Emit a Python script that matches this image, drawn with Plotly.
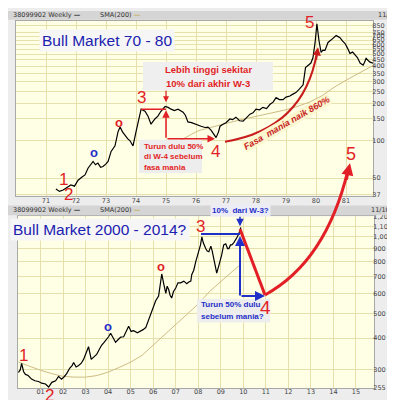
import math
import plotly.graph_objects as go

W, H = 395, 400


def px(x):
    return x / W


def py(y):
    return 1 - y / H


# ---------------- data ----------------
top_years = [1971.33, 1971.45, 1971.57, 1971.7, 1971.83, 1971.95, 1972.07, 1972.2, 1972.3, 1972.4, 1972.47,
             1972.57, 1972.65, 1972.73, 1972.82, 1972.9, 1973.0, 1973.07, 1973.17, 1973.3, 1973.4,
             1973.47, 1973.55, 1973.63, 1973.72, 1973.8, 1973.9, 1974.0, 1974.13, 1974.17, 1974.3,
             1974.4, 1974.5, 1974.63, 1974.73, 1974.83, 1974.97, 1975.07, 1975.17, 1975.28, 1975.4,
             1975.57, 1975.65, 1975.73, 1975.85, 1975.97, 1976.08, 1976.17, 1976.3, 1976.4, 1976.5,
             1976.57, 1976.67, 1976.75, 1976.8, 1976.9, 1977.0, 1977.13, 1977.22, 1977.33, 1977.45,
             1977.57, 1977.68, 1977.8, 1977.9, 1978.0, 1978.12, 1978.23, 1978.35, 1978.47, 1978.57,
             1978.67, 1978.78, 1978.9, 1979.0, 1979.13, 1979.23, 1979.33, 1979.45, 1979.57, 1979.65,
             1979.73, 1979.83, 1979.9, 1979.97, 1980.03, 1980.07, 1980.1, 1980.17, 1980.23, 1980.3,
             1980.4, 1980.5, 1980.58, 1980.67, 1980.75, 1980.8, 1980.88, 1980.97, 1981.05, 1981.13,
             1981.22, 1981.3, 1981.38, 1981.47, 1981.57, 1981.62, 1981.67, 1981.74, 1981.8, 1981.9]
top_price = [40.8, 39, 40, 42, 44, 43, 48, 51, 53, 60, 63,
             68, 64, 66, 61, 62, 65, 68, 82, 91, 118,
             129, 118, 110, 104, 100, 91, 118, 158, 180, 173,
             158, 136, 150, 158, 173, 189, 186, 180, 175, 180,
             170, 160, 142, 140, 136, 134, 131, 128, 129, 122,
             114, 106, 118, 131, 136, 140, 150, 148, 155, 145,
             144, 152, 164, 168, 180, 178, 186, 182, 197, 205,
             223, 215, 215, 225, 230, 238, 245, 262, 283, 390,
             408, 424, 470, 622, 880, 700, 642, 518, 540, 537,
             622, 650, 680, 707, 690, 680, 640, 610, 560, 508,
             520, 489, 470, 424, 408, 430, 463, 445, 431, 424]
top_sma_years = [1975.3, 1975.6, 1975.85, 1976.1, 1976.4, 1976.7, 1977.0, 1977.5, 1978.0, 1978.5, 1979.0,
                 1979.4, 1979.8, 1980.2, 1980.6, 1981.0, 1981.4, 1981.9]
top_sma = [95, 105, 113, 121, 127, 133, 138, 148, 157, 166, 178,
           190, 206, 231, 270, 308, 350, 405]

bot_years = [2000.02, 2000.1, 2000.16, 2000.25, 2000.33, 2000.45, 2000.6, 2000.75, 2000.91, 2001.05, 2001.22,
             2001.36, 2001.5, 2001.67, 2001.8, 2001.93, 2002.05, 2002.16, 2002.3, 2002.4, 2002.47,
             2002.58, 2002.69, 2002.8, 2002.91, 2003.02, 2003.13, 2003.25, 2003.36, 2003.49, 2003.6,
             2003.71, 2003.82, 2003.93, 2004.02, 2004.11, 2004.22, 2004.33, 2004.45, 2004.56, 2004.69,
             2004.8, 2004.91, 2005.02, 2005.13, 2005.3, 2005.44, 2005.55, 2005.67, 2005.78, 2005.89,
             2006.0, 2006.11, 2006.24, 2006.32, 2006.38, 2006.47, 2006.56, 2006.62, 2006.69, 2006.75,
             2006.82, 2006.9, 2007.0, 2007.1, 2007.22, 2007.36, 2007.49, 2007.58, 2007.67, 2007.71,
             2007.8, 2007.89, 2008.02, 2008.1, 2008.16, 2008.22, 2008.33, 2008.4, 2008.47, 2008.56,
             2008.62, 2008.69, 2008.76, 2008.82, 2008.91, 2008.97, 2009.04, 2009.13, 2009.22, 2009.3,
             2009.36, 2009.43, 2009.49, 2009.58, 2009.67, 2009.73, 2009.8, 2009.89]
bot_price = [293, 300, 318, 295, 288, 285, 276, 272, 270, 266, 264,
             257, 268, 272, 283, 276, 282, 290, 305, 312, 321,
             308, 312, 318, 330, 350, 370, 330, 338, 345, 360,
             375, 385, 395, 405, 418, 400, 385, 395, 404, 405,
             425, 445, 425, 428, 420, 425, 432, 440, 470, 495,
             530, 561, 585, 660, 715, 652, 600, 640, 620, 590,
             575, 610, 630, 660, 660, 670, 655, 665, 670, 710,
             740, 800, 880, 930, 1000, 950, 900, 880, 875, 920,
             880, 822, 760, 720, 770, 800, 850, 930, 940, 900,
             900, 930, 930, 950, 975, 1000, 1030, 1090]
bot_sma_years = [2000.02, 2000.5, 2001.0, 2001.5, 2002.0, 2002.5, 2003.0, 2003.5, 2004.0, 2004.5, 2005.0,
                 2005.5, 2006.0, 2006.5, 2007.0, 2007.5, 2008.0, 2008.5, 2009.0, 2009.5, 2009.89]
bot_sma = [322, 310, 299, 290, 283, 281, 281, 285, 294, 307, 322,
           342, 375, 415, 455, 495, 545, 610, 670, 730, 780]

top_ytick_vals = [37, 50, 100, 150, 200, 250, 300, 350, 400, 450, 500, 550, 600, 650, 700, 750, 850]
top_ytick_text = ["37", "50", "100", "150", "200", "250", "300", "350", "400", "450", "500", "550",
                  "600", "650", "700", "750", "850"]
bot_ytick_vals = [255, 300, 400, 500, 600, 700, 800, 900, 1000, 1100, 1200]
bot_ytick_text = ["255", "300", "400", "500", "600", "700", "800", "900", "1,000", "1,100", "1,200"]
top_xtick_vals = [1971, 1972, 1973, 1974, 1975, 1976, 1977, 1978, 1979, 1980, 1981]
top_xtick_text = ["71", "72", "73", "74", "75", "76", "77", "78", "79", "80", "81"]
bot_xtick_vals = [2001, 2002, 2003, 2004, 2005, 2006, 2007, 2008, 2009, 2010, 2011, 2012, 2013, 2014, 2015]
bot_xtick_text = ["01", "02", "03", "04", "05", "06", "07", "08", "09", "10", "11", "12", "13", "14", "15"]

# ---------------- styling ----------------
PLOT_BG = "#FFFFE6"
GRID = "#E6E0AC"
SMA_COL = "#CDBB85"
RED = "#E21F26"
DRED = "#C81E1E"
BLUE = "#1F2FC8"
TITLE_BLUE = "#2020B0"

fig = go.Figure()
fig.add_trace(go.Scatter(x=top_sma_years, y=top_sma, mode="lines", line=dict(color=SMA_COL, width=1),
                         xaxis="x", yaxis="y", hoverinfo="skip"))
fig.add_trace(go.Scatter(x=top_years, y=top_price, mode="lines", line=dict(color="black", width=1.2),
                         xaxis="x", yaxis="y"))
fig.add_trace(go.Scatter(x=bot_sma_years, y=bot_sma, mode="lines", line=dict(color=SMA_COL, width=1),
                         xaxis="x2", yaxis="y2", hoverinfo="skip"))
fig.add_trace(go.Scatter(x=bot_years, y=bot_price, mode="lines", line=dict(color="black", width=1.2),
                         xaxis="x2", yaxis="y2"))

axis_common = dict(showgrid=True, gridcolor=GRID, gridwidth=1, showline=True, linecolor="#A8A8A8",
                   mirror=True, ticks="", zeroline=False,
                   tickfont=dict(family="DejaVu Sans", size=6.5, color="#444"))

fig.update_layout(
    width=W, height=H, margin=dict(l=0, r=0, t=0, b=0),
    paper_bgcolor="#EDEDED", plot_bgcolor=PLOT_BG, showlegend=False,
    xaxis=dict(domain=[px(8), px(365)], range=[1970.0, 1981.9], tickvals=top_xtick_vals,
               ticktext=top_xtick_text, anchor="y", ticklabelstandoff=-2, **axis_common),
    yaxis=dict(domain=[py(188), py(10)], type="log", range=[math.log10(36), math.log10(930)], side="right",
               tickvals=top_ytick_vals, ticktext=top_ytick_text, anchor="x", ticklabelstandoff=-3,
               **axis_common),
    xaxis2=dict(domain=[px(10), px(366)], range=[2000.0, 2015.8], tickvals=bot_xtick_vals,
                ticktext=bot_xtick_text, anchor="y2", ticklabelstandoff=-3, **axis_common),
    yaxis2=dict(domain=[py(384), py(209)], type="log", range=[math.log10(254), math.log10(1205)], side="right",
                tickvals=bot_ytick_vals, ticktext=bot_ytick_text, anchor="x2", ticklabelstandoff=-3,
                **axis_common),
)

shapes = []
annos = []


def rect(x0, y0, x1, y1, fill, line=None):
    shapes.append(dict(type="rect", xref="paper", yref="paper", x0=px(x0), x1=px(x1), y0=py(y1), y1=py(y0),
                       fillcolor=fill, line=dict(width=0 if line is None else 1, color=line or fill),
                       layer="above"))


def seg(x0, y0, x1, y1, color, width):
    shapes.append(dict(type="line", xref="paper", yref="paper", x0=px(x0), x1=px(x1), y0=py(y0), y1=py(y1),
                       line=dict(color=color, width=width), layer="above"))


def qcurve(p0, c, p1, color, width):
    path = "M {} {} Q {} {} {} {}".format(px(p0[0]), py(p0[1]), px(c[0]), py(c[1]), px(p1[0]), py(p1[1]))
    shapes.append(dict(type="path", xref="paper", yref="paper", path=path, line=dict(color=color, width=width),
                       layer="above"))


def arrow(tx, ty, ax, ay, color, width, head=2, size=1.0):
    annos.append(dict(xref="paper", yref="paper", x=px(tx), y=py(ty), ax=ax, ay=ay, text="", showarrow=True,
                      arrowhead=head, arrowsize=size, arrowwidth=width, arrowcolor=color))


def text(x, y, s, size, color, family="Liberation Sans", xanchor="center", bg=None, angle=0, pad=1):
    d = dict(xref="paper", yref="paper", x=px(x), y=py(y), text=s, showarrow=False, xanchor=xanchor,
             yanchor="middle", font=dict(family=family, size=size, color=color), textangle=angle, borderpad=pad)
    if bg:
        d["bgcolor"] = bg
    annos.append(d)


# header bars
rect(0, 0, 395, 9, "#D5D5D5")
rect(0, 198, 395, 208, "#D5D5D5")
for yy, date in [(4.5, "11/13/"), (203, "11/10/09")]:
    text(3, yy, "38099902 Weekly <b>—</b>", 6.5, "#333", family="DejaVu Sans", xanchor="left")
    text(90, yy, "SMA(200) <span style='color:#C8B060'><b>—</b></span>", 6.5, "#333", family="DejaVu Sans",
         xanchor="left")
    annos.append(dict(xref="paper", yref="paper", x=px(394), y=py(yy), text=date, showarrow=False,
                      xanchor="right", yanchor="middle", font=dict(family="DejaVu Sans", size=6.5, color="#333")))

# ---- top panel annotations ----
text(99, 30, "Bull Market 70 - 80", 15.5, TITLE_BLUE, bg="#F6F6F6", pad=2)
rect(135, 52, 265, 81, "#EFEFEF")
text(200, 60, "<b>Lebih tinggi sekitar</b>", 9.5, RED)
text(200, 74, "<b>10% dari akhir W-3</b>", 9.5, RED)
arrow(158, 93, 0, -13, RED, 1.2)
seg(133, 100, 158, 100, RED, 1.5)
arrow(158, 101, 0, 29, RED, 1.5)
arrow(207, 130, -49, 0, RED, 1.5)
rect(131, 131, 194, 165, "#EDEDED")
text(134, 138, "<b>Turun dulu 50%</b>", 8, RED, xanchor="left")
text(134, 148.5, "<b>di W-4 sebelum</b>", 8, RED, xanchor="left")
text(134, 159, "<b>fasa mania</b>", 8, RED, xanchor="left")
text(55, 171, "1", 17, RED)
text(60, 187, "2", 17, RED)
text(86, 144, "<b>o</b>", 13, BLUE)
text(111, 113, "<b>o</b>", 13, RED)
text(133, 88, "3", 17, RED)
text(207, 143, "4", 17, RED)
text(301, 12, "5", 17, RED)
text(343, 146, "5", 18, RED)
qcurve((217, 133), (296, 120), (309, 42), DRED, 2)
arrow(310, 37, -2, 14, DRED, 1.8, head=2, size=0.9)
text(279, 114, "<b><i>Fasa  mania naik 860%</i></b>", 9, DRED, bg="#FBF7CF", angle=-30, pad=0)

# ---- bottom panel annotations ----
text(92, 222, "Bull Market 2000 - 2014?", 15.5, TITLE_BLUE, bg="#F6F6F6", pad=2)
text(232, 203, "<b>10%  dari W-3?</b>", 8, BLUE, bg="#ECECF6", pad=1)
arrow(232, 219, 0, -11, BLUE, 1.5)
seg(193, 227, 232, 227, BLUE, 2)
arrow(232, 229, 0, 61, BLUE, 2)
arrow(257, 290, -25, 0, BLUE, 2)
rect(189, 293, 262, 317, "#EDEDED")
text(191, 299, "<b>Turun 50% dulu</b>", 8, BLUE, xanchor="left")
text(191, 311, "<b>sebelum mania?</b>", 8, BLUE, xanchor="left")
seg(232, 222, 257, 289, RED, 3)
qcurve((257, 289), (318, 255), (340, 162), RED, 3)
arrow(342, 155, -4, 18, RED, 3, head=2, size=0.8)
text(15, 351, "1", 17, RED)
text(41, 391, "2", 17, RED)
text(100, 321, "<b>o</b>", 13, BLUE)
text(153, 260, "<b>o</b>", 13, RED)
text(192, 219, "3", 17, RED)
text(257, 302, "4", 19, RED)

fig.update_layout(shapes=shapes, annotations=annos)
fig.write_html("out.html")
